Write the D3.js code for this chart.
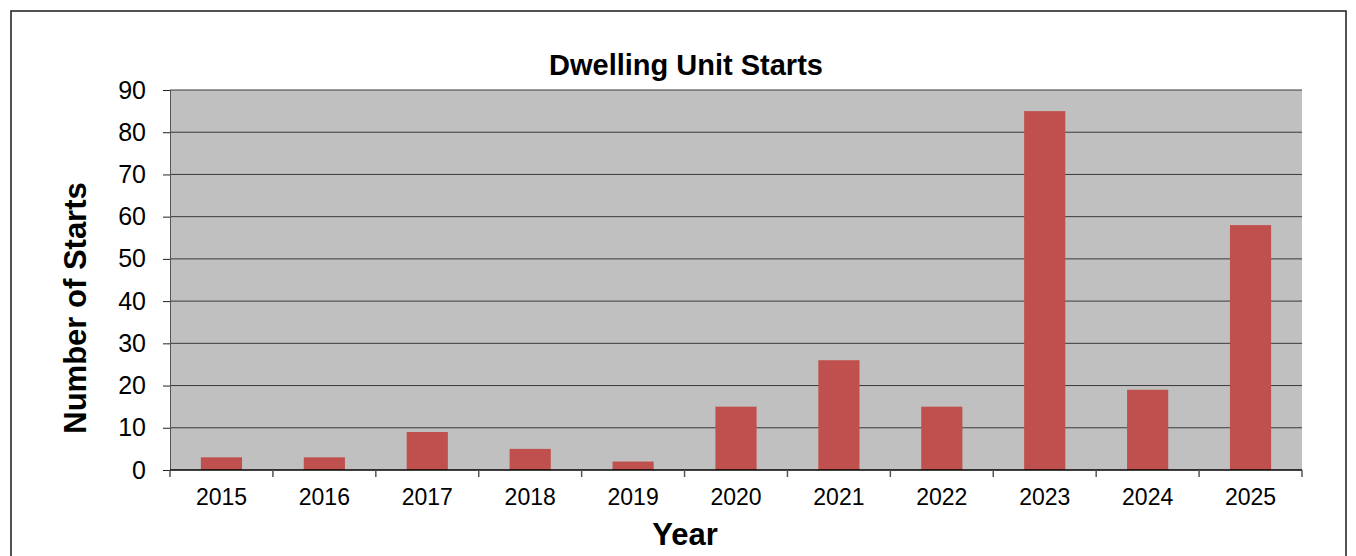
<!DOCTYPE html>
<html>
<head>
<meta charset="utf-8">
<script src="https://cdn.jsdelivr.net/npm/d3@7"></script>
<style>
  body { margin: 0; background: #fff; }
  text { font-family: "Liberation Sans", Arial, sans-serif; }
</style>
</head>
<body>
<script>
"use strict";

let years = ["2015", "2016", "2017", "2018", "2019", "2020", "2021", "2022", "2023", "2024", "2025"];
let starts = [3, 3, 9, 5, 2, 15, 26, 15, 85, 19, 58];
let yTicks = [0, 10, 20, 30, 40, 50, 60, 70, 80, 90];

let width = 1356;
let height = 556;
let margin = { top: 90, right: 54, bottom: 86, left: 170 };

let svg = d3.select("body").append("svg").attr("width", width).attr("height", height);

// chart frame
svg.append("rect")
  .attr("x", 11).attr("y", 11)
  .attr("width", 1335).attr("height", 600)
  .attr("fill", "none")
  .attr("stroke", "#1a1a1a")
  .attr("stroke-width", 1.5);

let xBand = d3.scaleBand()
  .domain(years)
  .range([margin.left, width - margin.right]);

let y = d3.scaleLinear()
  .domain([0, 90])
  .range([height - margin.bottom, margin.top]);

let g = svg.append("g");

g.append("rect")
  .attr("x", margin.left).attr("y", margin.top)
  .attr("width", width - margin.right - margin.left)
  .attr("height", height - margin.bottom - margin.top)
  .attr("fill", "#c0c0c0");

// gridlines
g.selectAll(".grid")
  .data(yTicks.filter(d => d > 0))
  .enter()
  .append("line")
  .attr("x1", margin.left).attr("x2", width - margin.right)
  .attr("y1", d => y(d)).attr("y2", d => y(d))
  .attr("stroke", "#3a3a3a")
  .attr("stroke-width", 1);

g.selectAll(".bar")
  .data(starts)
  .enter()
  .append("rect")
  .attr("x", (d, i) => xBand(years[i]) + xBand.bandwidth() * 0.3)
  .attr("width", xBand.bandwidth() * 0.4)
  .attr("y", d => y(d))
  .attr("height", d => y(0) - y(d))
  .attr("fill", "#c0504d");

// y axis
let yAxis = svg.append("g")
  .attr("transform", "translate(" + margin.left + ",0)")
  .call(d3.axisLeft(y).tickValues(yTicks).tickSize(7).tickPadding(17));
yAxis.attr("font-size", null).attr("font-family", null);
yAxis.select(".domain").attr("stroke", "#555");
yAxis.selectAll(".tick line").attr("stroke", "#222");
yAxis.selectAll("text").style("font-size", "25px").attr("fill", "#000");

// x axis
let xAxis = svg.append("g")
  .attr("transform", "translate(0," + (height - margin.bottom) + ")")
  .call(d3.axisBottom(xBand).tickSize(0).tickPadding(19));
xAxis.attr("font-size", null).attr("font-family", null);
xAxis.select(".domain").remove();
xAxis.append("line")
  .attr("x1", margin.left).attr("x2", width - margin.right)
  .attr("stroke", "#000").attr("stroke-width", 1.5);
xAxis.selectAll(".sep")
  .data(years.concat(["end"]))
  .enter()
  .append("line")
  .attr("x1", (d, i) => margin.left + i * xBand.bandwidth())
  .attr("x2", (d, i) => margin.left + i * xBand.bandwidth())
  .attr("y1", 0).attr("y2", 7)
  .attr("stroke", "#555").attr("stroke-width", 1.5);
xAxis.selectAll("text").style("font-size", "23px").attr("fill", "#000");

// titles
svg.append("text")
  .attr("x", 686).attr("y", 75)
  .attr("text-anchor", "middle")
  .style("font-size", "29px").style("font-weight", "bold")
  .text("Dwelling Unit Starts");

svg.append("text")
  .attr("x", 685).attr("y", 545)
  .attr("text-anchor", "middle")
  .style("font-size", "31px").style("font-weight", "bold")
  .text("Year");

svg.append("text")
  .attr("transform", "translate(86,308) rotate(-90)")
  .attr("text-anchor", "middle")
  .style("font-size", "31px").style("font-weight", "bold")
  .text("Number of Starts");
</script>
</body>
</html>
